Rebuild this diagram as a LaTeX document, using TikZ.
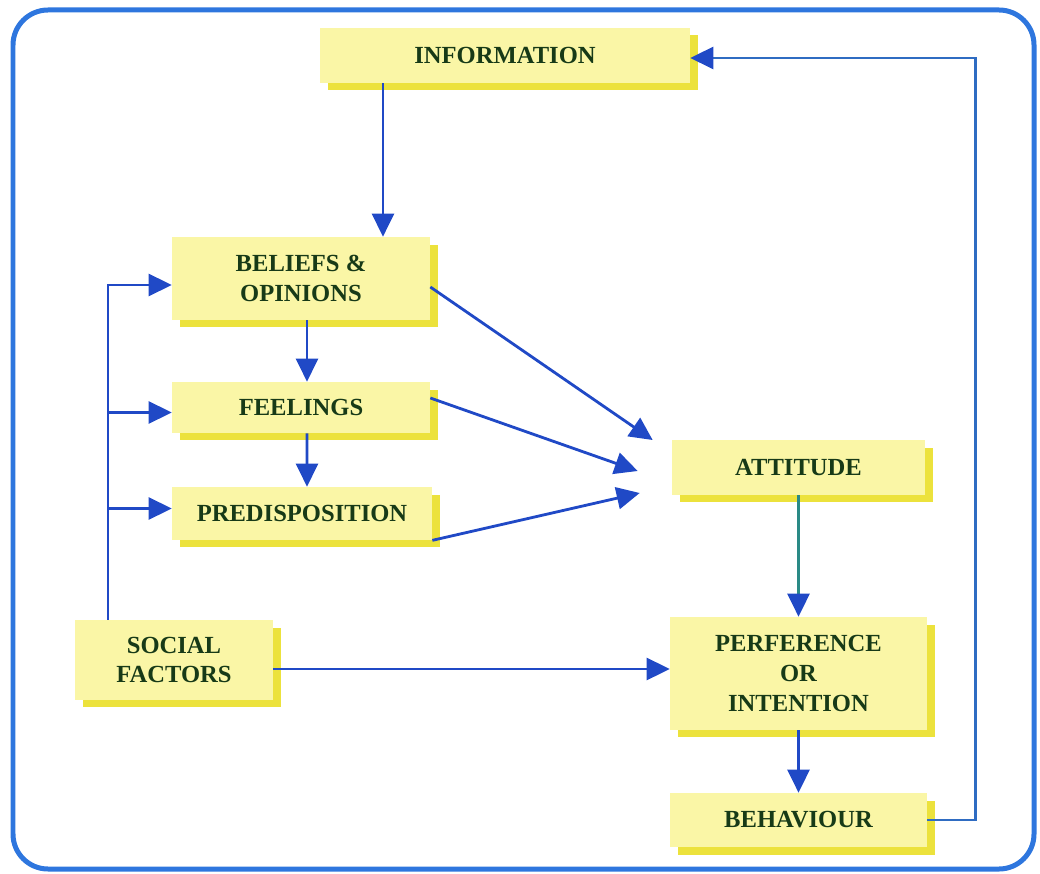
\documentclass[tikz,border=0pt]{standalone}
\usepackage{fontspec}
\setmainfont{Liberation Serif}
\usetikzlibrary{arrows.meta,shadows}
\definecolor{boxyellow}{HTML}{FAF6A6}
\definecolor{shadeyellow}{HTML}{ECE23C}
\definecolor{textgreen}{HTML}{173A17}
\definecolor{arrowblue}{HTML}{2049C6}
\definecolor{loopblue}{HTML}{2F6CC2}
\definecolor{lineteal}{HTML}{2A8A86}
\definecolor{frameblue}{HTML}{2E76DE}
\begin{document}
\begin{tikzpicture}[x=0.02cm, y=-0.02cm,
  every node/.style={font=\fontsize{14}{17}\selectfont\bfseries, text=textgreen, align=center},
  box/.style={fill=boxyellow, inner sep=0pt,
    drop shadow={shadow xshift=0.16cm, shadow yshift=-0.15cm, fill=shadeyellow, opacity=1}},
  arr/.style={draw=arrowblue, line width=1.6pt, -{Triangle[length=0.46cm, width=0.44cm]}}]
  \useasboundingbox (0,0) rectangle (1040,874);
  \draw[frameblue, line width=0.1cm, rounded corners=0.7cm] (13,10) rectangle (1034,869);
  % boxes
  \node[box, minimum width=7.4cm, minimum height=1.1cm] (info) at (505,55.5) {INFORMATION};
  \node[box, minimum width=5.16cm, minimum height=1.66cm] (beliefs) at (301,278.5) {BELIEFS \&\\OPINIONS};
  \node[box, minimum width=5.16cm, minimum height=1.02cm] (feel) at (301,407.5) {FEELINGS};
  \node[box, minimum width=5.2cm, minimum height=1.06cm] (predis) at (302,513.5) {PREDISPOSITION};
  \node[box, minimum width=5.06cm, minimum height=1.1cm] (attit) at (798.5,467.5) {ATTITUDE};
  \node[box, minimum width=3.96cm, minimum height=1.6cm] (social) at (174,660) {SOCIAL\\FACTORS};
  \node[box, minimum width=5.14cm, minimum height=2.26cm] (pref) at (798.5,673.5) {PERFERENCE\\OR\\INTENTION};
  \node[box, minimum width=5.14cm, minimum height=1.08cm] (behav) at (798.5,820) {BEHAVIOUR};
  % connectors
  \draw[arr] ([xshift=1.64cm]beliefs.north |- info.south) -- ([xshift=1.64cm]beliefs.north);
  \draw[arr] ([xshift=0.12cm]beliefs.south) -- ([xshift=0.12cm]feel.north);
  \draw[arr] ([xshift=0.12cm]feel.south) -- ([xshift=0.1cm]predis.north);
  \coordinate (sb) at ([xshift=-1.32cm]social.north);
  \draw[arr] (sb) |- ([yshift=-0.13cm]beliefs.west);
  \draw[arr] (sb) |- ([yshift=-0.1cm]feel.west);
  \draw[arr] (sb) |- ([yshift=0.1cm]predis.west);
  \coordinate (t1) at ([xshift=-0.38cm, yshift=0.55cm]attit.west);
  \coordinate (t2) at ([xshift=-0.68cm, yshift=-0.07cm]attit.west);
  \coordinate (t3) at ([xshift=-0.64cm, yshift=-0.51cm]attit.west);
  \draw[arr] ([yshift=-0.17cm]beliefs.east) -- (t1);
  \draw[arr] ([yshift=0.19cm]feel.east) -- (t2);
  \draw[arr] (predis.south east) -- (t3);
  \draw[arr, draw=lineteal, -{Triangle[length=0.46cm, width=0.44cm, color=arrowblue]}] (attit.south) -- (pref.north);
  \draw[arr] ([yshift=-0.18cm]social.east) -- ([yshift=-0.18cm]social.east -| pref.west);
  \draw[arr] (pref.south) -- (behav.north);
  \draw[arr, draw=loopblue, -{Triangle[length=0.46cm, width=0.44cm, color=arrowblue]}] (behav.east) -- ++(0.96cm,0) |- ([yshift=-0.05cm]info.east);
\end{tikzpicture}
\end{document}
